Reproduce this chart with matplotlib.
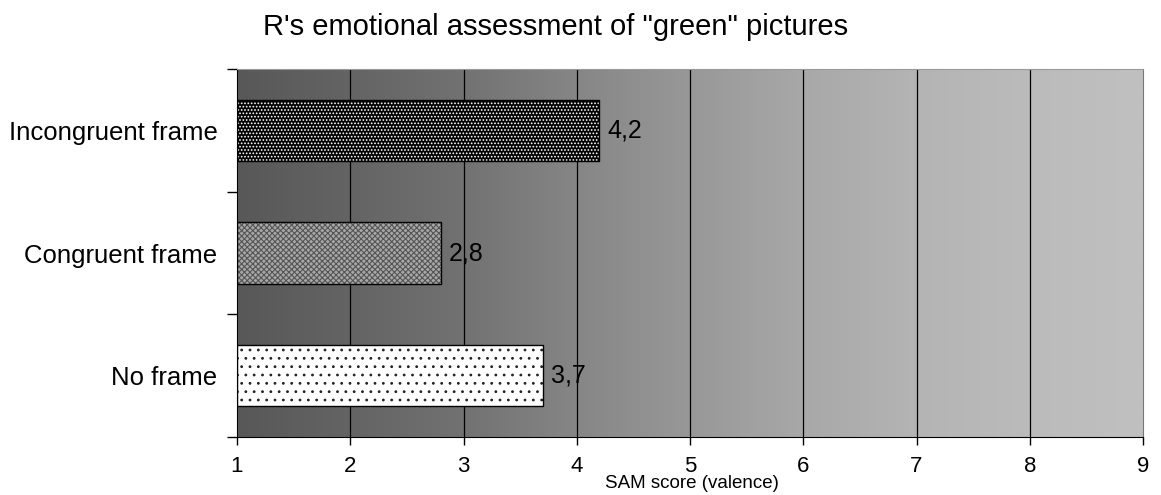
import numpy as np
import matplotlib
matplotlib.use("Agg")
import matplotlib.pyplot as plt
from matplotlib.colors import LinearSegmentedColormap

plt.rcParams['font.family'] = ['Liberation Sans', 'DejaVu Sans']

# data
categories = ["No frame", "Congruent frame", "Incongruent frame"]
values = [3.7, 2.8, 4.2]
value_labels = ["3,7", "2,8", "4,2"]
x_ticks = [1, 2, 3, 4, 5, 6, 7, 8, 9]

# background shading (grey level at each x tick)
bg_levels = [0x58, 0x64, 0x72, 0x86, 0x98, 0xa8, 0xb4, 0xbb, 0xc0]

fig = plt.figure(figsize=(11.61, 4.95), dpi=100)
ax = fig.add_axes([237 / 1161, 1 - 437 / 495, 906 / 1161, 368 / 495])

# gradient background
stops = [((x - 1) / 8, (g / 255,) * 3) for x, g in zip(x_ticks, bg_levels)]
cmap = LinearSegmentedColormap.from_list("bg", stops)
grad = np.linspace(0, 1, 512).reshape(1, -1)
ax.imshow(grad, cmap=cmap, aspect='auto', extent=[1, 9, -0.5, 2.5], zorder=0)

for x in x_ticks[1:-1]:
    ax.axvline(x, color='black', lw=0.9, zorder=1)

styles = [
    dict(face='white', hatch='..', hcolor='#222222'),
    dict(face='#a8a8a8', hatch='xxxxxx', hcolor='#555555'),
    dict(face='black', hatch='.....', hcolor='white'),
]
ypos = np.arange(len(categories))
h = 0.5
plt.rcParams['hatch.linewidth'] = 0.8
for y, v, st in zip(ypos, values, styles):
    ax.barh(y, v - 1, left=1, height=h, color=st['face'], hatch=st['hatch'],
            edgecolor=st['hcolor'], linewidth=0, zorder=2)
    ax.barh(y, v - 1, left=1, height=h, fill=False, edgecolor='black',
            linewidth=1.0, zorder=3)

for y, v, lab in zip(ypos, values, value_labels):
    ax.text(v + 0.07, y, lab, va='center', ha='left', fontsize=18, zorder=4)

ax.set_xlim(1, 9)
ax.set_ylim(-0.5, 2.5)
ax.set_xticks(x_ticks)
ax.set_xticklabels([str(t) for t in x_ticks], fontsize=16)
ax.tick_params(axis='x', direction='out', length=6, width=1, pad=8)

ax.set_yticks(ypos)
ax.set_yticklabels(categories, fontsize=18.5)
ax.tick_params(axis='y', which='major', length=0, pad=14)
ax.set_yticks([-0.5, 0.5, 1.5, 2.5], minor=True)
ax.tick_params(axis='y', which='minor', direction='out', length=7, width=1)

ax.spines['top'].set_color('#999999')
ax.spines['right'].set_color('#777777')
ax.spines['left'].set_color('black')
ax.spines['bottom'].set_color('black')

fig.text(692 / 1161, 1 - 484 / 495, "SAM score (valence)", ha='center', va='center',
         fontsize=13.5)
fig.text(556 / 1161, 1 - 27 / 495, "R's emotional assessment of \"green\" pictures",
         ha='center', va='center', fontsize=21)

fig.savefig("out.png", dpi=100)
